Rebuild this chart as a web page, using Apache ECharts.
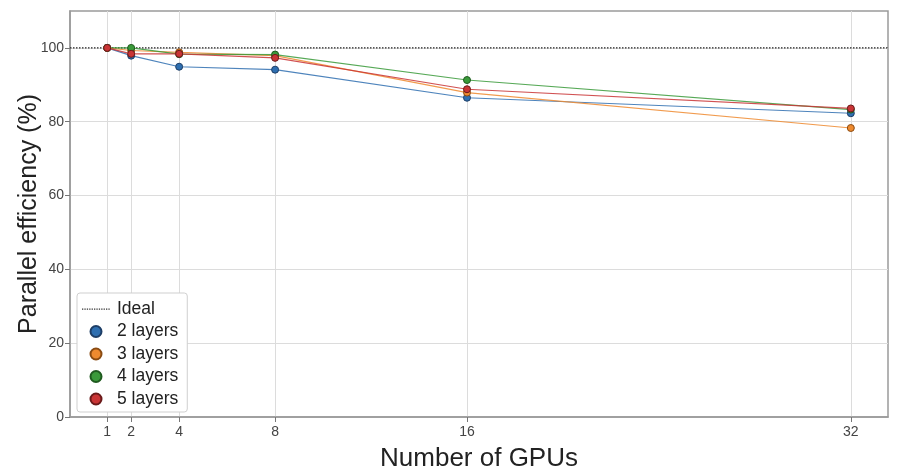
<!DOCTYPE html>
<html><head><meta charset="utf-8">
<script src="https://cdn.jsdelivr.net/npm/echarts@6/dist/echarts.min.js"></script>
<style>html,body{margin:0;padding:0;background:#fff}#c{width:904px;height:472px}</style>
</head><body><div id="c"></div>
<script>
const gpus = [1, 2, 4, 8, 16, 32];
const xTicks = [1, 2, 4, 8, 16, 32];
const yTicks = [0, 20, 40, 60, 80, 100];
const layers2 = [100, 97.9, 94.9, 94.1, 86.5, 82.3];
const layers3 = [100, 99.3, 98.8, 97.9, 87.9, 78.3];
const layers4 = [100, 100, 98.3, 98.2, 91.3, 83.3];
const layers5 = [100, 98.4, 98.4, 97.3, 88.8, 83.6];
const idealValue = 100;
const names = ['2 layers', '3 layers', '4 layers', '5 layers'];
const colors = ['#2f6fb0', '#ee8a2f', '#3a9a3a', '#c93435'];
const edges = ['#1e3e66', '#8a4b12', '#1f5a1f', '#6a1a1a'];
const xMin = -0.55, xMax = 33.55;

const font = 'Liberation Sans, Arial, sans-serif';
const allSeries = [layers2, layers3, layers4, layers5];

// dotted-line legend icon in a 32x11 box (tiny corner dots fix the bounding box)
let dotPath = 'path://M0,0h0.01v0.01h-0.01z M31.99,10.99h0.01v0.01h-0.01z';
for (let x = 2; x < 30; x += 2.4) dotPath += ' M' + x.toFixed(2) + ',4.9h1.3v1.3h-1.3z';

const series = [{
  name: 'Ideal', type: 'line', symbol: 'none',
  data: [[xMin, idealValue], [xMax, idealValue]],
  lineStyle: {color: '#222', width: 1.2, type: [1.5, 1.5]},
  itemStyle: {color: '#222'}, z: 1,
  markLine: {
    silent: true, symbol: 'none', label: {show: false}, z: 0,
    lineStyle: {color: '#dcdcdc', width: 1, type: 'solid'},
    data: xTicks.map(v => ({xAxis: v})).concat(yTicks.slice(1).map(v => ({yAxis: v})))
  }
}];
allSeries.forEach((vals, i) => {
  series.push({
    name: names[i], type: 'line', symbol: 'circle', symbolSize: 7,
    data: gpus.map((g, j) => [g, vals[j]]),
    lineStyle: {color: colors[i], width: 1.2, opacity: 0.85},
    itemStyle: {color: colors[i], borderColor: edges[i], borderWidth: 1},
    z: 3 + i
  });
});

const chart = echarts.init(document.getElementById('c'));
chart.setOption({
  animation: false,
  grid: {left: 70, right: 16, top: 11, bottom: 55, show: true, outerBoundsMode: 'none', containLabel: false,
         borderColor: '#9a9a9a', borderWidth: 1.5, backgroundColor: 'transparent'},
  xAxis: {
    type: 'value', min: xMin, max: xMax,
    name: 'Number of GPUs', nameLocation: 'middle', nameGap: 29, nameMoveOverlap: false,
    nameTextStyle: {fontFamily: font, fontSize: 26, color: '#222'},
    axisLine: {show: true, onZero: false, lineStyle: {color: '#9a9a9a', width: 1.5}},
    axisTick: {show: true, length: 5, lineStyle: {color: '#777'}, customValues: xTicks},
    axisLabel: {customValues: xTicks, fontFamily: font, fontSize: 14, color: '#444', margin: 8},
    splitLine: {show: false}
  },
  yAxis: {
    type: 'value', min: 0, max: 110,
    name: 'Parallel efficiency (%)', nameLocation: 'middle', nameGap: 28, nameMoveOverlap: false,
    nameTextStyle: {fontFamily: font, fontSize: 25, color: '#222'},
    axisLine: {show: true, onZero: false, lineStyle: {color: '#9a9a9a', width: 1.5}},
    axisTick: {show: true, length: 5, lineStyle: {color: '#777'}, customValues: yTicks},
    axisLabel: {customValues: yTicks, fontFamily: font, fontSize: 14, color: '#444', margin: 6},
    splitLine: {show: false}
  },
  legend: {
    orient: 'vertical', left: 77, top: 293, z: 20,
    padding: [7, 9, 4, 3], itemGap: 4.5, itemWidth: 32, itemHeight: 11,
    backgroundColor: '#ffffff', borderColor: '#cfcfcf', borderWidth: 1, borderRadius: 3,
    textStyle: {fontFamily: font, fontSize: 17.5, color: '#222'},
    data: [
      {name: 'Ideal', icon: dotPath, itemStyle: {color: '#333'}},
      {name: '2 layers', icon: 'circle'},
      {name: '3 layers', icon: 'circle'},
      {name: '4 layers', icon: 'circle'},
      {name: '5 layers', icon: 'circle'}
    ]
  },
  series: series
});
</script></body></html>
